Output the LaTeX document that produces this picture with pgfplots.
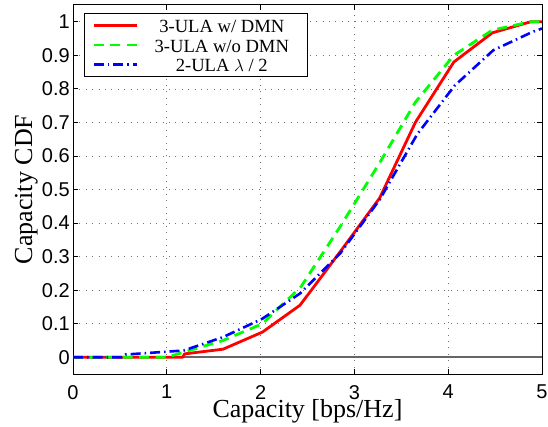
\documentclass[border=0pt]{standalone}
\usepackage{pgfplots}
\pgfplotsset{compat=1.18}
\usepackage{fontspec}
\setmainfont{Liberation Serif}
\setsansfont{Liberation Sans}

\pgfplotstableread{
x y
0 0
1.17 0
1.19 0.01
1.6 0.024
2.02 0.075
2.42 0.155
2.85 0.315
3.27 0.475
3.65 0.70
4.06 0.88
4.47 0.967
4.88 1.0
5 1.0
}\redtab
\pgfplotstableread{
x y
0 0
1.0 0
1.6 0.05
2.02 0.10
2.43 0.21
2.85 0.39
3.27 0.58
3.65 0.76
4.06 0.90
4.47 0.975
4.88 1.0
5 1.0
}\greentab
\pgfplotstableread{
x y
0 0
0.52 0
0.56 0.008
1.18 0.02
1.6 0.06
2.02 0.115
2.42 0.19
2.85 0.31
3.27 0.47
3.67 0.665
4.07 0.81
4.48 0.915
4.9 0.97
5 0.98
}\bluetab

\begin{document}
\begin{tikzpicture}
\begin{axis}[
  scale only axis, width=469pt, height=369pt,
  xmin=0, xmax=5, ymin=-0.05, ymax=1.05,
  xtick={0,1,2,3,4,5},
  ytick={0,0.1,0.2,0.3,0.4,0.5,0.6,0.7,0.8,0.9,1},
  tick align=inside, major tick length=5pt,
  grid=major,
  grid style={black!55, line width=0.7pt, dash pattern=on 1pt off 5.4pt},
  axis line style={line width=1pt},
  every tick/.style={black, line width=0.8pt},
  tick label style={font=\sffamily\fontsize{20}{24}\selectfont, inner sep=0pt},
  /pgf/number format/assume math mode=true,
  xticklabel style={yshift=-11pt},
  yticklabel style={xshift=-3pt},
  xlabel={Capacity [bps/Hz]}, ylabel={Capacity CDF},
  label style={font=\fontsize{26}{30}\selectfont},
  xlabel style={at={([yshift=-43pt]axis description cs:0.5,0)}, anchor=base, inner sep=0pt},
  ylabel style={at={([xshift=-35pt]axis description cs:0,0.5)}, anchor=south, inner sep=0pt},
  legend image code/.code={\path (0pt,0pt); \draw[#1] (5.4pt,0pt) -- (48.4pt,0pt);},
  legend style={at={([xshift=11pt,yshift=-8pt]axis description cs:0,1)}, anchor=north west,
    draw=black, line width=1pt, inner sep=2.5pt, row sep=0pt, column sep=0pt,
    font=\fontsize{18.6}{22.3}\selectfont, nodes={inner sep=1.1pt}},
]
\addplot[black!60, line width=2.2pt, forget plot] coordinates {(0,0) (5,0)};
\addplot[red, line width=2.8pt, line join=round] table[x=x,y=y] {\redtab};
\addlegendentry{\makebox[165pt]{\strut 3-ULA w/ DMN}}
\addplot[green, line width=2.8pt, dash pattern=on 10pt off 6.5pt] table[x=x,y=y] {\greentab};
\addlegendentry{\makebox[165pt]{\strut 3-ULA w/o DMN}}
\addplot[blue, line width=2.6pt, dash pattern=on 10pt off 4pt on 1.5pt off 4pt] table[x=x,y=y] {\bluetab};
\addlegendentry{\makebox[165pt]{\strut 2-ULA $\lambda$ / 2}}
\coordinate (SW) at (rel axis cs:0,0);
\coordinate (NE) at (rel axis cs:1,1);
\end{axis}
\path ([shift={(-73pt,-52pt)}]SW) rectangle ([shift={(6pt,5pt)}]NE);
\end{tikzpicture}
\end{document}
